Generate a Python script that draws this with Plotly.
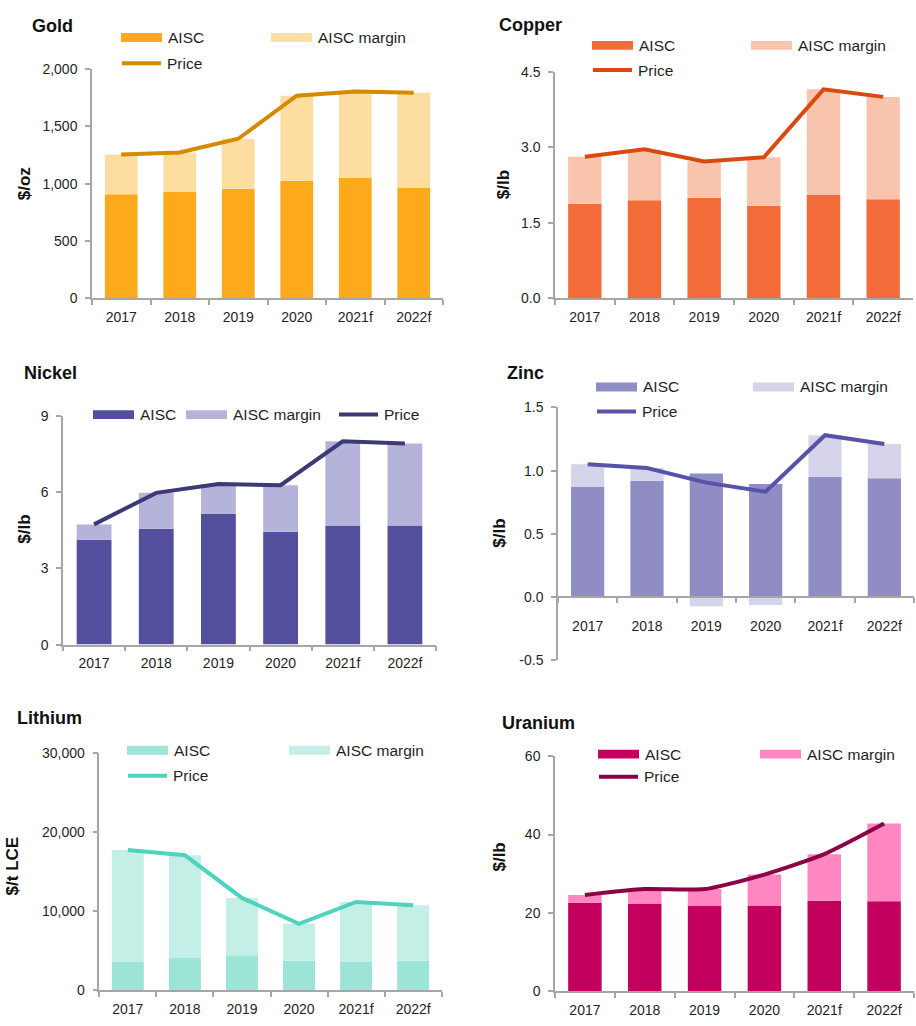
import plotly.graph_objects as go

# ---- data -----------------------------------------------------------------
years = ["2017", "2018", "2019", "2020", "2021f", "2022f"]

gold_aisc = [908, 928, 957, 1026, 1052, 966]
gold_margin = [347, 344, 435, 742, 753, 828]
gold_price = [1255, 1272, 1392, 1768, 1805, 1794]

copper_aisc = [1.88, 1.95, 2.00, 1.84, 2.05, 1.97]
copper_margin = [0.93, 0.99, 0.72, 0.96, 2.10, 2.03]
copper_price = [2.81, 2.96, 2.72, 2.80, 4.15, 4.00]

nickel_aisc = [4.13, 4.56, 5.15, 4.44, 4.69, 4.69]
nickel_margin = [0.60, 1.41, 1.17, 1.83, 3.31, 3.22]
nickel_price = [4.73, 5.97, 6.32, 6.27, 8.00, 7.91]

zinc_aisc = [0.87, 0.92, 0.978, 0.895, 0.95, 0.94]
zinc_margin = [0.18, 0.10, -0.073, -0.062, 0.33, 0.27]
zinc_price = [1.05, 1.02, 0.905, 0.833, 1.28, 1.21]

lithium_aisc = [3610, 4070, 4400, 3730, 3610, 3730]
lithium_margin = [14110, 12980, 7260, 4650, 7540, 7020]
lithium_price = [17720, 17050, 11660, 8380, 11150, 10750]

uranium_aisc = [22.6, 22.4, 21.8, 21.9, 23.1, 23.0]
uranium_margin = [2.0, 3.7, 4.3, 7.9, 11.9, 19.8]
uranium_price = [24.6, 26.1, 26.1, 29.8, 35.0, 42.8]

gold_ticks = [0, 500, 1000, 1500, 2000]
gold_ticktext = ["0", "500", "1,000", "1,500", "2,000"]
copper_ticks = [0, 1.5, 3.0, 4.5]
copper_ticktext = ["0.0", "1.5", "3.0", "4.5"]
nickel_ticks = [0, 3, 6, 9]
nickel_ticktext = ["0", "3", "6", "9"]
zinc_ticks = [-0.5, 0, 0.5, 1.0, 1.5]
zinc_ticktext = ["-0.5", "0.0", "0.5", "1.0", "1.5"]
lithium_ticks = [0, 10000, 20000, 30000]
lithium_ticktext = ["0", "10,000", "20,000", "30,000"]
uranium_ticks = [0, 20, 40, 60]
uranium_ticktext = ["0", "20", "40", "60"]

# ---- canvas helpers (pixel -> paper) ---------------------------------------
W, H = 916, 1026


def px(x):
    return x / W


def py(y):
    return 1 - y / H


FONT = "Liberation Sans, Arial, sans-serif"
TXT = "#1f1f1f"
AXIS = "#a6a6a6"

panels = [
    dict(name="Gold", unit="$/oz", aisc=gold_aisc, margin=gold_margin, price=gold_price,
         c_aisc="#fcaa1b", c_margin="#fddea0", c_price="#d48b00",
         box=(92, 443, 62, 295), rng=(0, 2000), ticks=gold_ticks, ticktext=gold_ticktext,
         title_xy=(30, 18), unit_xy=(24, 179),
         legend=dict(a=(121, 30), m=(271, 30), p=(120, 56)), spline=False),
    dict(name="Copper", unit="$/lb", aisc=copper_aisc, margin=copper_margin, price=copper_price,
         c_aisc="#f26b38", c_margin="#f9c4ad", c_price="#d84a0e",
         box=(555, 913, 64.7, 295), rng=(0, 4.5), ticks=copper_ticks, ticktext=copper_ticktext,
         title_xy=(497, 17), unit_xy=(503, 180),
         legend=dict(a=(592, 38), m=(751, 38), p=(591, 63)), spline=False),
    dict(name="Nickel", unit="$/lb", aisc=nickel_aisc, margin=nickel_margin, price=nickel_price,
         c_aisc="#534f9c", c_margin="#b5b3da", c_price="#3c3a75",
         box=(63, 436, 414.3, 646.7), rng=(0, 9), ticks=nickel_ticks, ticktext=nickel_ticktext,
         title_xy=(22, 371), unit_xy=(25, 530),
         legend=dict(a=(93, 413), m=(186, 413), p=(337, 413)), spline=False),
    dict(name="Zinc", unit="$/lb", aisc=zinc_aisc, margin=zinc_margin, price=zinc_price,
         c_aisc="#908dc5", c_margin="#d6d4ea", c_price="#5653a9",
         box=(558, 914, 405.7, 662.7), rng=(-0.5, 1.5), ticks=zinc_ticks, ticktext=zinc_ticktext,
         title_xy=(505, 371), unit_xy=(500, 534),
         legend=dict(a=(596, 385), m=(753, 385), p=(595, 410)), spline=False),
    dict(name="Lithium", unit="$/t LCE", aisc=lithium_aisc, margin=lithium_margin, price=lithium_price,
         c_aisc="#9ce4d6", c_margin="#c4efe7", c_price="#4dd4bc",
         box=(99.3, 441.7, 756.7, 997.7), rng=(0, 30000), ticks=lithium_ticks, ticktext=lithium_ticktext,
         title_xy=(15, 721), unit_xy=(12, 872),
         legend=dict(a=(127, 754), m=(289, 754), p=(126, 780)), spline=False),
    dict(name="Uranium", unit="$/lb", aisc=uranium_aisc, margin=uranium_margin, price=uranium_price,
         c_aisc="#c4005f", c_margin="#ff87c1", c_price="#8b0047",
         box=(555, 914, 760, 999), rng=(0, 60), ticks=uranium_ticks, ticktext=uranium_ticktext,
         title_xy=(500, 726), unit_xy=(500, 863),
         legend=dict(a=(598, 758), m=(760, 758), p=(597, 781)), spline=True),
]

fig = go.Figure()
layout = dict(
    width=W, height=H,
    margin=dict(l=0, r=0, t=0, b=0),
    paper_bgcolor="white", plot_bgcolor="white",
    barmode="relative", bargap=0.44,
    showlegend=False,
    font=dict(family=FONT, size=14, color=TXT),
)
shapes = []
annotations = []

for i, p in enumerate(panels, start=1):
    xa = "x" if i == 1 else f"x{i}"
    ya = "y" if i == 1 else f"y{i}"
    x0, x1, yt, yb = p["box"]

    fig.add_trace(go.Bar(x=years, y=p["aisc"], name="AISC", marker_color=p["c_aisc"],
                         marker_line_width=0, xaxis=xa, yaxis=ya))
    fig.add_trace(go.Bar(x=years, y=p["margin"], name="AISC margin", marker_color=p["c_margin"],
                         marker_line_width=0, xaxis=xa, yaxis=ya))
    fig.add_trace(go.Scatter(x=years, y=p["price"], name="Price", mode="lines",
                             line=dict(color=p["c_price"], width=4,
                                       shape="spline" if p["spline"] else "linear",
                                       smoothing=0.6),
                             xaxis=xa, yaxis=ya))

    xkey = "xaxis" if i == 1 else f"xaxis{i}"
    ykey = "yaxis" if i == 1 else f"yaxis{i}"
    xaxis = dict(
        domain=[px(x0), px(x1)], anchor=ya,
        type="category", showgrid=False, zeroline=False,
        showline=True, linecolor=AXIS, linewidth=1.5,
        ticks="outside", tickson="boundaries", ticklen=5, tickcolor=AXIS, tickwidth=1.5,
        tickfont=dict(family=FONT, size=14, color=TXT),
        ticklabelstandoff=5,
        fixedrange=True,
    )
    if p["rng"][0] < 0:
        # category axis sits on the zero line
        zero_px = yt + (yb - yt) * (p["rng"][1] - 0) / (p["rng"][1] - p["rng"][0])
        xaxis.update(anchor="free", position=py(zero_px), ticklabelstandoff=16)
    layout[xkey] = xaxis
    layout[ykey] = dict(
        domain=[py(yb), py(yt)], anchor=xa, range=list(p["rng"]),
        showgrid=False, zeroline=False,
        showline=True, linecolor=AXIS, linewidth=1.5,
        ticks="outside", ticklen=5, tickcolor=AXIS, tickwidth=1.5,
        tickvals=p["ticks"], ticktext=p["ticktext"],
        tickfont=dict(family=FONT, size=14, color=TXT),
        ticklabelstandoff=5,
        fixedrange=True,
    )

    # panel title and unit label
    tx, ty = p["title_xy"]
    annotations.append(dict(text=f"<b>{p['name']}</b>", x=px(tx), y=py(ty), xref="paper", yref="paper",
                            xanchor="left", yanchor="middle", showarrow=False,
                            font=dict(family=FONT, size=18, color="#111")))
    ux, uy = p["unit_xy"]
    annotations.append(dict(text=f"<b>{p['unit']}</b>", x=px(ux), y=py(uy), xref="paper", yref="paper",
                            xanchor="center", yanchor="middle", showarrow=False, textangle=-90,
                            font=dict(family=FONT, size=17, color="#111")))

    # legend: two swatches and a line sample
    lg = p["legend"]
    sw, sh = 41, 9
    for key, label, color in (("a", "AISC", p["c_aisc"]), ("m", "AISC margin", p["c_margin"])):
        lx, ly = lg[key]
        shapes.append(dict(type="rect", xref="paper", yref="paper",
                           x0=px(lx), x1=px(lx + sw), y0=py(ly + sh / 2), y1=py(ly - sh / 2),
                           fillcolor=color, line=dict(width=0), layer="above"))
        annotations.append(dict(text=label, x=px(lx + sw + 4), y=py(ly), xref="paper", yref="paper",
                                xanchor="left", yanchor="middle", showarrow=False,
                                font=dict(family=FONT, size=15.5, color=TXT)))
    lx, ly = lg["p"]
    shapes.append(dict(type="line", xref="paper", yref="paper",
                       x0=px(lx + 2), x1=px(lx + 41), y0=py(ly), y1=py(ly),
                       line=dict(color=p["c_price"], width=4), layer="above"))
    annotations.append(dict(text="Price", x=px(lx + 45), y=py(ly), xref="paper", yref="paper",
                            xanchor="left", yanchor="middle", showarrow=False,
                            font=dict(family=FONT, size=15.5, color=TXT)))

layout["shapes"] = shapes
layout["annotations"] = annotations
fig.update_layout(**layout)

fig.write_html("out.html")
